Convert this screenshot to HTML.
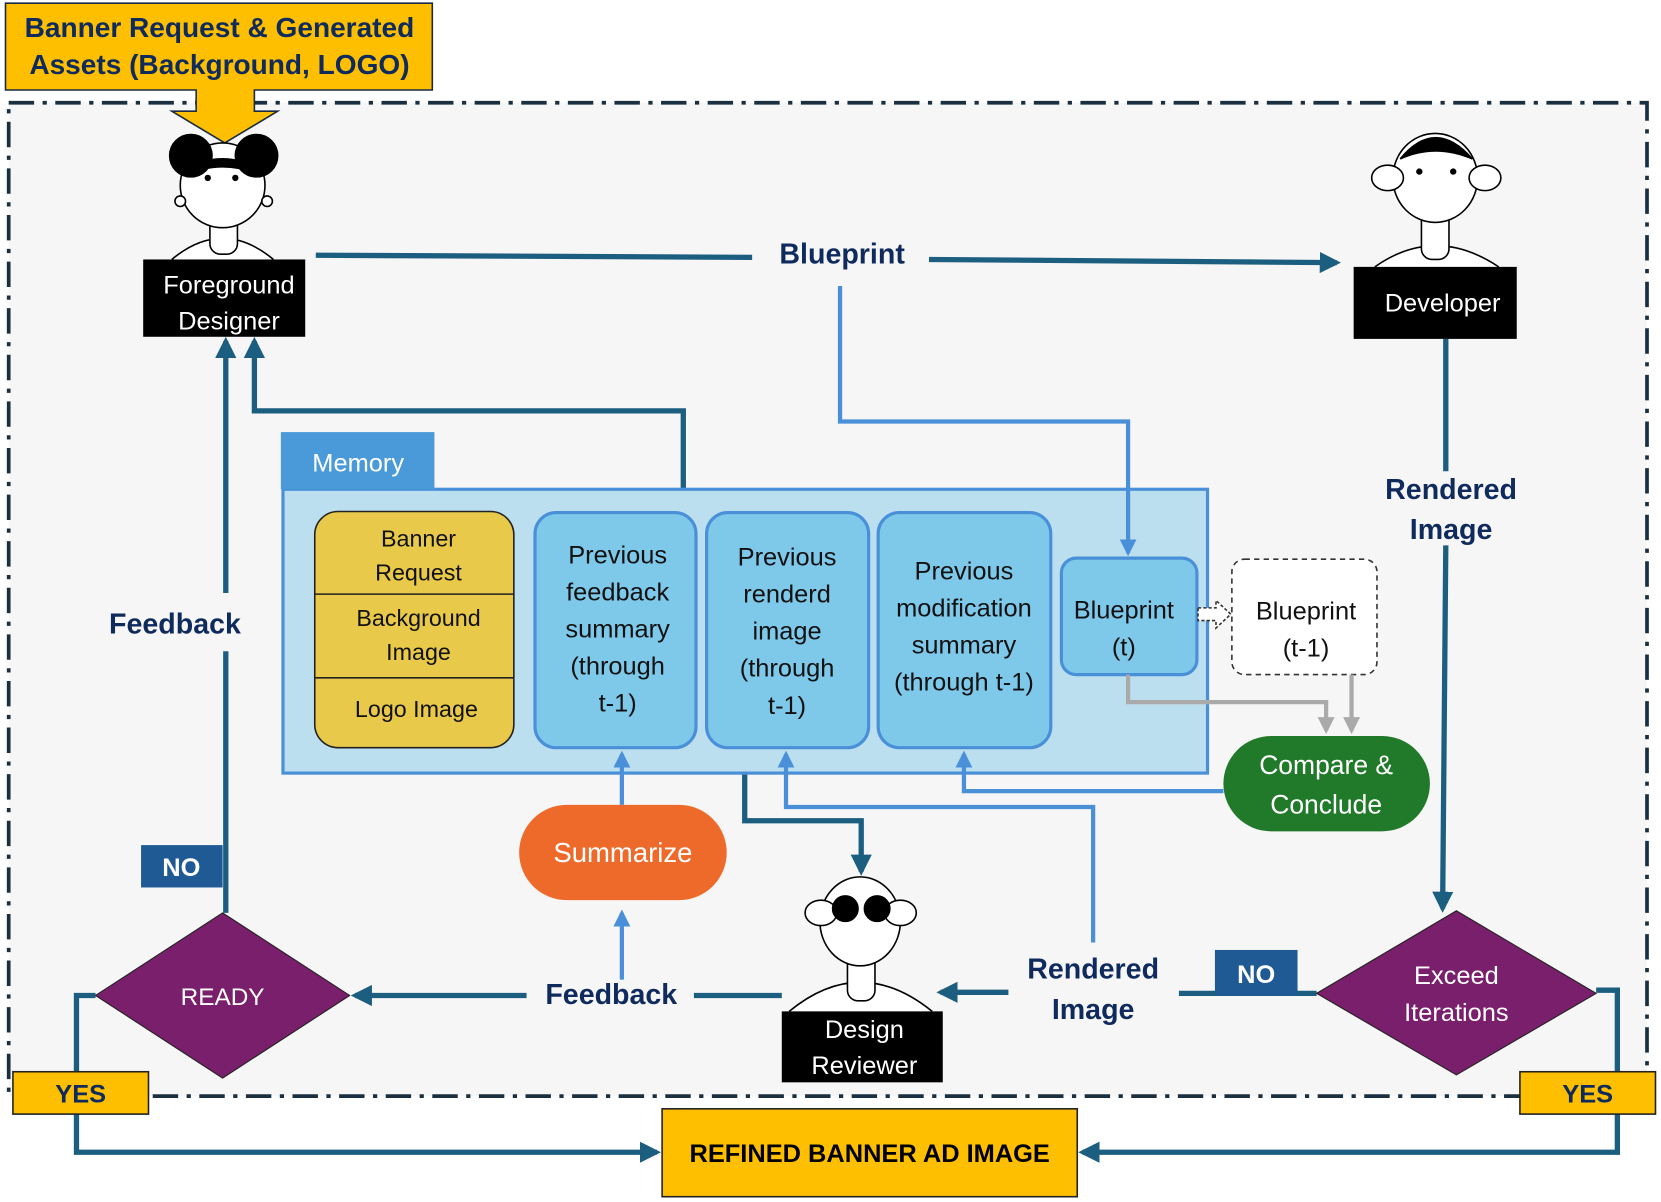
<!DOCTYPE html>
<html><head><meta charset="utf-8"><style>
html,body{margin:0;padding:0;background:#fff;}
svg{display:block;}
text{font-family:"Liberation Sans",sans-serif;}
.w{fill:#fff;}
.nb{fill:#0f2a5c;font-weight:bold;}
</style></head><body>
<svg width="1661" height="1202" viewBox="0 0 1568 1135" xmlns="http://www.w3.org/2000/svg">
<defs>
<marker id="ad" viewBox="0 0 10 10" refX="8" refY="5" markerWidth="4" markerHeight="4" orient="auto"><path d="M0,0L10,5L0,10z" fill="#1b5e80"/></marker>
<marker id="al" viewBox="0 0 10 10" refX="8" refY="5" markerWidth="4" markerHeight="4" orient="auto"><path d="M0,0L10,5L0,10z" fill="#4a90d9"/></marker>
<marker id="ag" viewBox="0 0 10 10" refX="8" refY="5" markerWidth="4" markerHeight="4" orient="auto"><path d="M0,0L10,5L0,10z" fill="#aaa"/></marker>
</defs>
<rect x="8" y="97" width="1547" height="938" fill="#f6f6f6" stroke="#1a3040" stroke-width="3.5" stroke-dasharray="24 8 4 8"/>
<path d="M5,3 L408,3 L408,85 L240,85 L240,105 L262,105 L212,135 L162,105 L185,105 L185,85 L5,85 Z" fill="#fdbf00" stroke="#1a2a40" stroke-width="1.5"/>
<text x="207" y="35" text-anchor="middle" font-size="26.5" class="nb">Banner Request &amp; Generated</text>
<text x="207" y="70" text-anchor="middle" font-size="26.5" class="nb">Assets (Background, LOGO)</text>

<g stroke="#000" stroke-width="1.5" fill="#fff">
<path d="M162,245 Q210,205 258,245"/><rect x="198" y="195" width="26" height="45" rx="10"/>
<ellipse cx="210" cy="175" rx="40" ry="40"/>
<circle cx="180" cy="147" r="20" fill="#000"/><circle cx="242" cy="147" r="20" fill="#000"/>
<path d="M175,160 Q210,140 245,160 L245,165 Q210,150 175,165Z" fill="#000"/>
<circle cx="170" cy="190" r="5"/><circle cx="252" cy="190" r="5"/>
<path d="M1298,252 Q1355,212 1415,252"/><rect x="1342" y="195" width="26" height="50" rx="10"/>
<ellipse cx="1355" cy="168" rx="40" ry="42"/>
<ellipse cx="1310" cy="168" rx="15" ry="12"/><ellipse cx="1402" cy="168" rx="15" ry="12"/>
<path d="M1322,150 Q1355,110 1390,150 Q1355,135 1322,150Z" fill="#000"/>
<path d="M745,955 Q812,900 880,955"/><rect x="800" y="900" width="26" height="45" rx="10"/>
<ellipse cx="812" cy="870" rx="38" ry="42"/>
<ellipse cx="775" cy="862" rx="15" ry="12"/><ellipse cx="850" cy="862" rx="15" ry="12"/>
<circle cx="798" cy="858" r="12" fill="#000"/><circle cx="828" cy="858" r="12" fill="#000"/>
</g>
<g fill="#000"><circle cx="196" cy="168" r="3"/><circle cx="222" cy="168" r="3"/><circle cx="1340" cy="162" r="3"/><circle cx="1372" cy="162" r="3"/></g>
<rect x="135" y="245" width="153" height="73" fill="#000"/>
<text x="216" y="277" text-anchor="middle" font-size="24" class="w">Foreground</text>
<text x="216" y="311" text-anchor="middle" font-size="24" class="w">Designer</text>
<rect x="1278" y="252" width="154" height="68" fill="#000"/>
<text x="1362" y="294" text-anchor="middle" font-size="24" class="w">Developer</text>
<rect x="738" y="955" width="152" height="67" fill="#000"/>
<text x="816" y="980" text-anchor="middle" font-size="24" class="w">Design</text>
<text x="816" y="1014" text-anchor="middle" font-size="24" class="w">Reviewer</text>

<g stroke="#1b5e80" stroke-width="5" fill="none">
<line x1="298" y1="241" x2="710" y2="243"/>
<line x1="877" y1="245" x2="1262" y2="248" marker-end="url(#ad)"/>
<polyline points="645,462 645,388 240,388 240,322" marker-end="url(#ad)"/>
<polyline points="213,862 213,615"/><line x1="213" y1="560" x2="213" y2="322" marker-end="url(#ad)"/>
<polyline points="90,940 72,940 72,1088 620,1088" marker-end="url(#ad)"/>
<polyline points="1507,935 1527,935 1527,1088 1022,1088" marker-end="url(#ad)"/>
<line x1="1365" y1="320" x2="1365" y2="445"/><line x1="1365" y1="515" x2="1362" y2="858" marker-end="url(#ad)"/>
<line x1="1243" y1="938" x2="1113" y2="938"/><line x1="952" y1="937" x2="888" y2="937" marker-end="url(#ad)"/>
<polyline points="703,730 703,775 813,775 813,823" marker-end="url(#ad)"/>
<line x1="738" y1="940" x2="655" y2="940"/><line x1="497" y1="940" x2="335" y2="940" marker-end="url(#ad)"/>
</g>
<text x="795" y="249" text-anchor="middle" font-size="27" class="nb">Blueprint</text>
<text x="165" y="598" text-anchor="middle" font-size="27" class="nb">Feedback</text>
<text x="577" y="948" text-anchor="middle" font-size="27" class="nb">Feedback</text>
<text x="1370" y="471" text-anchor="middle" font-size="27" class="nb">Rendered</text>
<text x="1370" y="509" text-anchor="middle" font-size="27" class="nb">Image</text>
<text x="1032" y="924" text-anchor="middle" font-size="27" class="nb">Rendered</text>
<text x="1032" y="962" text-anchor="middle" font-size="27" class="nb">Image</text>

<rect x="267" y="462" width="873" height="268" fill="#bcdff0" stroke="#4a90d9" stroke-width="3"/>
<rect x="265" y="408" width="145" height="54" fill="#4a9ad9"/>
<text x="338" y="445" text-anchor="middle" font-size="24" class="w">Memory</text>
<rect x="297" y="483" width="188" height="223" rx="22" fill="#e8c94a" stroke="#222" stroke-width="1.5"/>
<line x1="297" y1="561" x2="485" y2="561" stroke="#222" stroke-width="1.5"/>
<line x1="297" y1="640" x2="485" y2="640" stroke="#222" stroke-width="1.5"/>
<g font-size="22" fill="#111" text-anchor="middle">
<text x="395" y="516">Banner</text><text x="395" y="548">Request</text>
<text x="395" y="591">Background</text><text x="395" y="623">Image</text>
<text x="393" y="677">Logo  Image</text>
</g>
<g fill="#7ec8ea" stroke="#4a90d9" stroke-width="3">
<rect x="505" y="484" width="152" height="222" rx="20"/>
<rect x="667" y="484" width="153" height="222" rx="20"/>
<rect x="829" y="484" width="163" height="222" rx="20"/>
<rect x="1002" y="527" width="128" height="110" rx="14"/>
</g>
<g font-size="24" fill="#111" text-anchor="middle">
<text x="583" y="532">Previous</text><text x="583" y="567">feedback</text><text x="583" y="602">summary</text><text x="583" y="637">(through</text><text x="583" y="672">t-1)</text>
<text x="743" y="534">Previous</text><text x="743" y="569">renderd</text><text x="743" y="604">image</text><text x="743" y="639">(through</text><text x="743" y="674">t-1)</text>
<text x="910" y="547">Previous</text><text x="910" y="582">modification</text><text x="910" y="617">summary</text><text x="910" y="652">(through t-1)</text>
<text x="1061" y="584">Blueprint</text><text x="1061" y="619">(t)</text>
</g>
<rect x="1163" y="528" width="137" height="109" rx="12" fill="#fff" stroke="#333" stroke-width="1.5" stroke-dasharray="5 4"/>
<text x="1233" y="585" text-anchor="middle" font-size="24" fill="#111">Blueprint</text>
<text x="1233" y="620" text-anchor="middle" font-size="24" fill="#111">(t-1)</text>
<path d="M1131,574 L1148,574 L1148,567 L1162,580 L1148,593 L1148,586 L1131,586Z" fill="#fff" stroke="#333" stroke-width="1.5" stroke-dasharray="3 2"/>
<g stroke="#aaa" stroke-width="4" fill="none">
<polyline points="1065,637 1065,663 1252,663 1252,690" marker-end="url(#ag)"/>
<line x1="1276" y1="637" x2="1276" y2="690" marker-end="url(#ag)"/>
</g>
<g stroke="#4a90d9" stroke-width="4" fill="none">
<polyline points="793,270 793,398 1065,398 1065,522" marker-end="url(#al)"/>
<polyline points="1155,747 910,747 910,712" marker-end="url(#al)"/>
<polyline points="1032,890 1032,762 742,762 742,712" marker-end="url(#al)"/>
<line x1="587" y1="760" x2="587" y2="712" marker-end="url(#al)"/>
<line x1="587" y1="925" x2="587" y2="862" marker-end="url(#al)"/>
</g>
<rect x="1155" y="695" width="195" height="90" rx="45" fill="#217a2a"/>
<text x="1252" y="731" text-anchor="middle" font-size="25" class="w">Compare &amp;</text>
<text x="1252" y="768" text-anchor="middle" font-size="25" class="w">Conclude</text>
<rect x="490" y="760" width="196" height="90" rx="45" fill="#ee6a2a"/>
<text x="588" y="814" text-anchor="middle" font-size="26" class="w">Summarize</text>

<path d="M90,940 L210,862 L330,940 L210,1018Z" fill="#7a1f6b" stroke="#222" stroke-width="1"/>
<text x="210" y="949" text-anchor="middle" font-size="23" class="w">READY</text>
<path d="M1243,938 L1375,860 L1507,938 L1375,1015Z" fill="#7a1f6b" stroke="#222" stroke-width="1"/>
<text x="1375" y="929" text-anchor="middle" font-size="24" class="w">Exceed</text>
<text x="1375" y="964" text-anchor="middle" font-size="24" class="w">Iterations</text>
<rect x="133" y="798" width="77" height="40" fill="#1f5a94"/>
<text x="171" y="827" text-anchor="middle" font-size="24" fill="#fff" font-weight="bold">NO</text>
<rect x="1147" y="897" width="78" height="43" fill="#1f5a94"/>
<text x="1186" y="928" text-anchor="middle" font-size="24" fill="#fff" font-weight="bold">NO</text>
<rect x="12" y="1012" width="128" height="40" fill="#fdbf00" stroke="#222" stroke-width="1.5"/>
<text x="76" y="1041" text-anchor="middle" font-size="24" class="nb">YES</text>
<rect x="1435" y="1012" width="128" height="40" fill="#fdbf00" stroke="#222" stroke-width="1.5"/>
<text x="1499" y="1041" text-anchor="middle" font-size="24" class="nb">YES</text>
<rect x="625" y="1047" width="392" height="83" fill="#fdbf00" stroke="#222" stroke-width="1.5"/>
<text x="821" y="1097" text-anchor="middle" font-size="24" fill="#000" font-weight="bold">REFINED BANNER AD IMAGE</text>
</svg>
</body></html>
